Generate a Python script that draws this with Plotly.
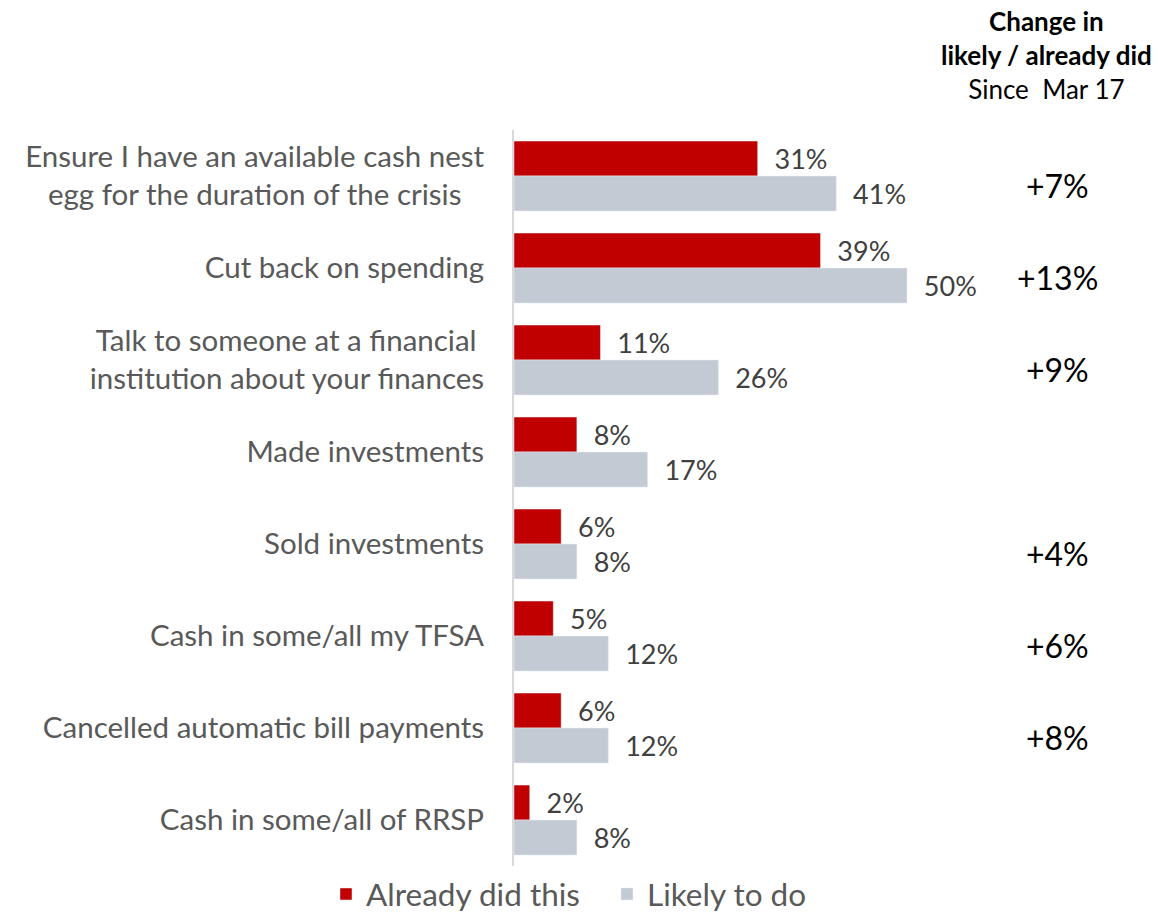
import plotly.graph_objects as go

NB = "\u00a0"
categories = [
    "Ensure I have an available cash nest<br>egg for the duration of the crisis" + NB * 3,
    "Cut back on spending",
    "Talk to someone at a financial" + NB + "<br>institution about your finances",
    "Made investments",
    "Sold investments",
    "Cash in some/all my TFSA",
    "Cancelled automatic bill payments",
    "Cash in some/all of RRSP",
]
already_did = [31, 39, 11, 8, 6, 5, 6, 2]
likely_to_do = [41, 50, 26, 17, 8, 12, 12, 8]
change_since_mar17 = ["+7%", "+13%", "+9%", "", "+4%", "+6%", "+8%", ""]

FONT = "Lato, Calibri, Carlito, sans-serif"
RED = "#C00000"
GREY = "#C3CAD3"

W, H = 1160, 914
L, T, B = 514, 130, 48
PLOT_H = H - T - B
PX_PER_PCT = 7.86
x_max = (W - L) / PX_PER_PCT


def px_to_paper_x(px):
    return (px - L) / (W - L)


def px_to_paper_y(py):
    return (H - B - py) / PLOT_H


fig = go.Figure()
for name, vals, color in [("Already did this", already_did, RED),
                          ("Likely to do", likely_to_do, GREY)]:
    fig.add_trace(go.Bar(
        name=name, y=categories, x=vals, orientation="h",
        marker=dict(color=color), text=[f"{v}%" for v in vals],
        textposition="outside", texttemplate="  %{text}",
        textfont=dict(size=27, color="#404040", family=FONT), cliponaxis=False,
    ))

# change column to the right of the bars
for cat, chg in zip(categories, change_since_mar17):
    if chg:
        fig.add_annotation(
            x=(1057 - L) / PX_PER_PCT, y=cat, xref="x", yref="y",
            text=chg, showarrow=False, yshift=-9,
            font=dict(size=32, color="#000000", family=FONT),
        )

fig.add_annotation(
    x=px_to_paper_x(1046), y=px_to_paper_y(55), xref="paper", yref="paper",
    showarrow=False, xanchor="center", yanchor="middle", align="center",
    text="<b>Change in</b><br><b>likely / already did</b><br>Since  Mar 17",
    font=dict(size=26, color="#000000", family=FONT),
)

fig.update_layout(
    width=W, height=H,
    margin=dict(l=L, r=0, t=T, b=B, autoexpand=False),
    plot_bgcolor="white", paper_bgcolor="white",
    barmode="group", bargap=0.24, bargroupgap=0,
    font=dict(family=FONT, color="#595959"),
    showlegend=True,
    legend=dict(
        orientation="h", x=px_to_paper_x(326), xanchor="left",
        y=px_to_paper_y(894), yanchor="middle",
        font=dict(size=31.5, color="#595959", family=FONT),
        itemwidth=30, traceorder="normal",
        entrywidth=236, entrywidthmode="pixels",
    ),
)
fig.update_xaxes(range=[0, x_max], visible=False, fixedrange=True)
fig.update_yaxes(
    autorange="reversed", showline=True, linecolor="#D9D9D9", linewidth=2,
    ticks="", ticklabelstandoff=22,
    tickfont=dict(size=29.5, color="#595959", family=FONT),
)

fig.write_html("out.html")
